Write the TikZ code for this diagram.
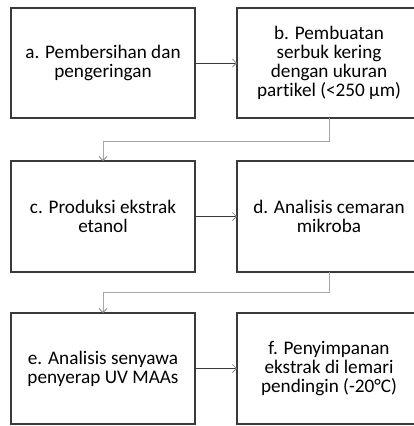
\documentclass[tikz,border=0pt]{standalone}
\usepackage{fontspec}
\setmainfont{Carlito}[Ligatures=NoCommon]
\usetikzlibrary{arrows.meta}
\definecolor{boxline}{HTML}{3A3A3A}
\definecolor{elbowline}{HTML}{A6A6A6}
\definecolor{tipcol}{HTML}{8C8C8C}
\begin{document}
\begin{tikzpicture}[x=1pt,y=1pt,
  stepbox/.style={draw=boxline, line width=1.4pt, rectangle, inner sep=0pt, outer sep=0pt,
    minimum width=184pt, align=center, font=\fontsize{19.2}{19.2}\selectfont},
  flowarrow/.style={draw=boxline, line width=0.8pt, -{Straight Barb[length=4pt,width=8pt,line width=0.8pt,color=tipcol]}},
  elbowarrow/.style={draw=elbowline, line width=1pt, -{Straight Barb[length=4pt,width=8pt,line width=0.8pt,color=tipcol]}}
]
\useasboundingbox (0,0) rectangle (414,-426);
\clip (0,0) rectangle (414,-426);
\node[stepbox, minimum height=110pt] (a) at (103,-63) {a. Pembersihan dan\\pengeringan};
\node[stepbox, minimum height=110pt] (b) at (329,-63) {b. Pembuatan\\serbuk kering\\dengan ukuran\\partikel (<250 µm)};
\node[stepbox, minimum height=111pt] (c) at (103,-216.5) {c. Produksi ekstrak\\etanol};
\node[stepbox, minimum height=111pt] (d) at (329,-216.5) {d. Analisis cemaran\\mikroba};
\node[stepbox, minimum height=111pt] (e) at (103,-368.5) {e. Analisis senyawa\\penyerap UV MAAs};
\node[stepbox, minimum height=111pt] (f) at (329,-368.5) {f. Penyimpanan\\ekstrak di lemari\\pendingin (-20°C)};
\draw[flowarrow] (a) -- (b);
\draw[flowarrow] (c) -- (d);
\draw[flowarrow] (e) -- (f);
\draw[elbowarrow] (b.south) -- ++(0,-23) -| (c.north);
\draw[elbowarrow] (d.south) -- ++(0,-20) -| (e.north);
\end{tikzpicture}
\end{document}
